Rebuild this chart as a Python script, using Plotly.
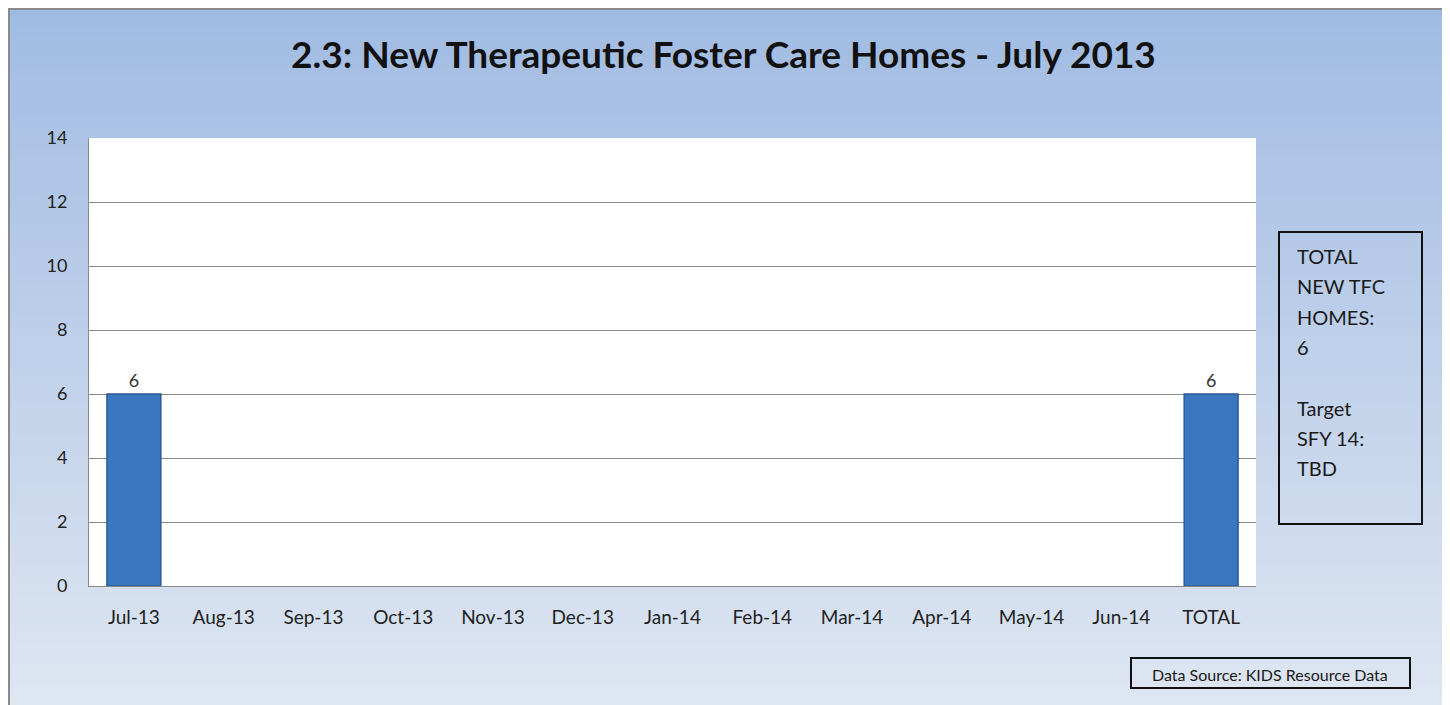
import plotly.graph_objects as go

categories = ["Jul-13", "Aug-13", "Sep-13", "Oct-13", "Nov-13", "Dec-13", "Jan-14",
              "Feb-14", "Mar-14", "Apr-14", "May-14", "Jun-14", "TOTAL"]
values = [6, None, None, None, None, None, None, None, None, None, None, None, 6]
bar_labels = ["6" if v else "" for v in values]
y_ticks = [0, 2, 4, 6, 8, 10, 12, 14]
title_text = "2.3: New Therapeutic Foster Care Homes - July 2013"
box_lines = ["TOTAL", "NEW TFC", "HOMES:", "6", "", "Target", "SFY 14:", "TBD"]
source_text = "Data Source: KIDS Resource Data"

OFF = 8  # page body margin
W, H = 1450 - OFF, 705 - OFF
# plot area in screen pixels
SL, SR, ST, SB = 89, 1256, 138, 586
FONT = "Lato"

def px_x(px):
    return (px - SL) / (SR - SL)

def px_y(py):
    return (SB - py) / (SB - ST)

def lerp(c1, c2, t):
    return "rgb(%d,%d,%d)" % tuple(round(a + (b - a) * t) for a, b in zip(c1, c2))

fig = go.Figure()
fig.add_trace(go.Bar(
    x=categories, y=values, text=bar_labels, textposition="outside",
    textfont=dict(family=FONT, size=18, color="#333333"),
    marker=dict(color="#3b77c0", line=dict(color="#2a5a95", width=1.5)),
    cliponaxis=False, width=0.6,
))

shapes = []
top_c = (160, 187, 226)
bot_c = (222, 230, 242)
n = 70
for i in range(n):
    y0 = OFF + i * H / n
    y1 = OFF + (i + 1) * H / n + 1
    shapes.append(dict(type="rect", xref="paper", yref="paper", layer="below",
                       x0=px_x(0), x1=px_x(1460), y0=px_y(y1), y1=px_y(y0 - 1),
                       fillcolor=lerp(top_c, bot_c, (i + 0.5) / n), line=dict(width=0)))
shapes.append(dict(type="rect", xref="paper", yref="paper", layer="below",
                   x0=0, x1=1, y0=0, y1=1, fillcolor="white", line=dict(width=0)))
# outer frame
shapes.append(dict(type="rect", xref="paper", yref="paper", layer="above",
                   x0=px_x(OFF + 1), x1=px_x(1443), y0=px_y(712), y1=px_y(OFF + 1),
                   fillcolor="rgba(0,0,0,0)", line=dict(color="#8a8a8a", width=2)))
# text box
shapes.append(dict(type="rect", xref="paper", yref="paper", layer="above",
                   x0=px_x(1279), x1=px_x(1422), y0=px_y(524), y1=px_y(232),
                   fillcolor="rgba(0,0,0,0)", line=dict(color="#111111", width=2)))
# data source box
shapes.append(dict(type="rect", xref="paper", yref="paper", layer="above",
                   x0=px_x(1131), x1=px_x(1410), y0=px_y(688), y1=px_y(658),
                   fillcolor="rgba(0,0,0,0)", line=dict(color="#111111", width=2)))

annotations = []
for i, line in enumerate(box_lines):
    if not line:
        continue
    annotations.append(dict(text=line, xref="paper", yref="paper",
                            x=px_x(1295), y=px_y(256 + i * 30.3), xanchor="left", yanchor="middle",
                            showarrow=False, font=dict(family=FONT, size=20, color="#1a1a1a")))
annotations.append(dict(text=source_text, xref="paper", yref="paper",
                        x=px_x(1270), y=px_y(674), xanchor="center", yanchor="middle",
                        showarrow=False, font=dict(family=FONT, size=16, color="#1a1a1a")))
annotations.append(dict(text="<b>" + title_text + "</b>", xref="paper", yref="paper",
                        x=px_x(723), y=px_y(53), xanchor="center", yanchor="middle",
                        showarrow=False, font=dict(family=FONT, size=37, color="#111111")))

fig.update_layout(
    width=W, height=H,
    margin=dict(l=SL - OFF, r=W - (SR - OFF), t=ST - OFF, b=H - (SB - OFF), pad=0),
    paper_bgcolor="rgb(222,230,242)", plot_bgcolor="white",
    showlegend=False, bargap=0.4,
    shapes=shapes, annotations=annotations,
    xaxis=dict(categoryorder="array", categoryarray=categories, showgrid=False,
               showline=True, linecolor="#8a8a8a", linewidth=1, ticks="",
               tickfont=dict(family=FONT, size=19, color="#222222"),
               ticklabelstandoff=14, fixedrange=True),
    yaxis=dict(range=[0, 14], tickvals=y_ticks, showgrid=True, gridcolor="#8a8a8a",
               gridwidth=1, showline=True, linecolor="#8a8a8a", linewidth=1,
               zeroline=False, ticks="",
               tickfont=dict(family=FONT, size=18, color="#222222"),
               ticklabelstandoff=17, fixedrange=True),
)

fig.write_html("out.html")
